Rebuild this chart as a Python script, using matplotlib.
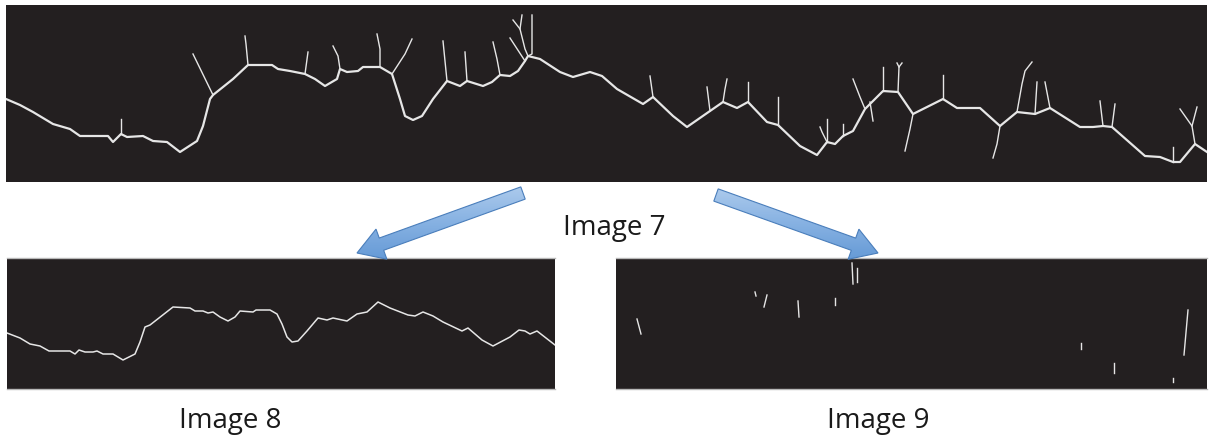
import numpy as np
import matplotlib
matplotlib.use("Agg")
import matplotlib.pyplot as plt
from matplotlib.patches import FancyArrow
from matplotlib.colors import LinearSegmentedColormap

W, H = 1211, 439
BG = '#231f20'
LINE = '#e6e6e6'

# Image 7: main skeleton path (pixel coords of the figure)
main_x = [6, 20, 33, 53, 70, 80, 108, 113, 121, 127, 143, 153, 167, 180, 197, 203, 210, 213, 233, 248,
          272, 278, 290, 305, 315, 325, 337, 340, 347, 358, 363, 380, 392, 400, 405, 413, 422, 433, 447,
          460, 467, 483, 492, 500, 510, 518, 525, 528, 540, 560, 573, 590, 602, 617, 643, 653, 673, 687,
          710, 723, 737, 748, 767, 778, 800, 817, 827, 835, 843, 853, 865, 883, 898, 913, 943, 957, 980,
          1000, 1017, 1035, 1050, 1080, 1093, 1103, 1112, 1145, 1160, 1173, 1180, 1195, 1207]
main_y = [100, 106, 113, 125, 130, 137, 137, 143, 135, 138, 137, 142, 143, 153, 142, 127, 100, 96, 80, 66,
          66, 70, 72, 75, 80, 87, 80, 70, 73, 72, 68, 68, 75, 100, 117, 121, 117, 100, 82,
          87, 82, 87, 83, 76, 77, 72, 62, 57, 60, 73, 78, 73, 77, 90, 105, 98, 117, 128,
          112, 103, 109, 103, 123, 126, 147, 156, 143, 145, 137, 132, 110, 92, 93, 115, 100, 109, 109,
          127, 113, 115, 109, 128, 128, 127, 128, 157, 158, 163, 163, 145, 153]

# Image 7: side branches (x list, y list)
branches = [
    ([121, 121], [135, 120]),
    ([213, 193], [96, 55]),
    ([248, 246, 245], [66, 45, 37]),
    ([305, 308], [75, 53]),
    ([340, 338, 333], [70, 57, 47]),
    ([380, 380, 377], [68, 50, 35]),
    ([392, 405, 412], [75, 55, 40]),
    ([447, 443], [82, 42]),
    ([467, 465], [82, 53]),
    ([500, 497, 493], [76, 60, 43]),
    ([525, 510], [62, 39]),
    ([528, 532, 532], [57, 55, 16]),
    ([528, 525, 520, 522], [57, 50, 30, 16]),
    ([520, 513], [30, 21]),
    ([653, 650], [98, 77]),
    ([710, 707], [112, 88]),
    ([723, 725, 727], [103, 90, 80]),
    ([748, 748], [103, 83]),
    ([778, 778], [126, 98]),
    ([827, 822, 820], [143, 133, 128]),
    ([827, 827], [143, 120]),
    ([843, 843], [137, 125]),
    ([865, 860, 853], [110, 98, 80]),
    ([870, 873], [103, 122]),
    ([883, 883], [92, 68]),
    ([898, 899, 897], [93, 68, 64]),
    ([899, 902], [68, 64]),
    ([913, 910, 905], [115, 130, 152]),
    ([943, 943], [100, 76]),
    ([1000, 997, 993], [127, 145, 159]),
    ([1017, 1022, 1025, 1032], [113, 85, 72, 63]),
    ([1035, 1037], [115, 83]),
    ([1050, 1045], [109, 83]),
    ([1103, 1100], [127, 102]),
    ([1112, 1115], [128, 105]),
    ([1173, 1173], [163, 148]),
    ([1195, 1192, 1180], [145, 127, 110]),
    ([1192, 1197], [127, 108]),
]

# Image 8: smoothed main path
img8_x = [7, 20, 30, 40, 49, 70, 75, 79, 85, 93, 97, 103, 113, 123, 135, 140, 145, 150, 173, 190, 195,
          203, 208, 213, 220, 228, 235, 240, 253, 256, 270, 277, 282, 287, 292, 298, 307, 318, 327, 333,
          347, 357, 367, 378, 390, 408, 415, 423, 433, 443, 462, 468, 482, 493, 510, 519, 525, 530, 537, 555]
img8_y = [334, 339, 345, 347, 352, 352, 355, 351, 353, 353, 352, 355, 355, 361, 355, 343, 328, 326, 308,
          309, 312, 312, 314, 313, 318, 322, 318, 312, 313, 311, 311, 315, 325, 338, 343, 342, 332, 319,
          321, 319, 322, 315, 313, 303, 309, 316, 317, 313, 317, 323, 332, 329, 341, 347, 338, 331, 332,
          335, 332, 346]

# Image 9: leftover branch fragments
img9_x0 = [637, 755, 767, 798, 835, 852, 857, 1081, 1114, 1188, 1173]
img9_y0 = [320, 293, 296, 302, 299, 264, 269, 344, 364, 311, 379]
img9_x1 = [641, 756, 764, 799, 835, 853, 857, 1081, 1114, 1184, 1173]
img9_y1 = [335, 297, 308, 318, 306, 285, 283, 350, 374, 356, 383]

# arrows (tail -> tip) and labels
arrow_tail = [(523, 194), (716, 196)]
arrow_tip = [(357, 254), (878, 254)]
labels = ['Image 7', 'Image 8', 'Image 9']
label_pos = [(614, 235), (230, 428), (878, 428)]

fig = plt.figure(figsize=(W / 100, H / 100), dpi=100)
fig.patch.set_facecolor('white')


def panel(x0, y0, x1, y1):
    ax = fig.add_axes([x0 / W, (H - y1) / H, (x1 - x0) / W, (y1 - y0) / H])
    ax.set_facecolor(BG)
    ax.set_xlim(x0, x1)
    ax.set_ylim(y1, y0)
    ax.set_xticks([])
    ax.set_yticks([])
    for s in ax.spines.values():
        s.set_visible(False)
    return ax


ax7 = panel(6, 6, 1207, 183)
ax7.plot(main_x, main_y, color=LINE, lw=1.6, solid_joinstyle='round')
for bx, by in branches:
    ax7.plot(bx, by, color=LINE, lw=1.0)

ax8 = panel(7, 259, 555, 390)
ax8.plot(img8_x, img8_y, color=LINE, lw=1.1)

ax9 = panel(616, 259, 1207, 390)
for xa, ya, xb, yb in zip(img9_x0, img9_y0, img9_x1, img9_y1):
    ax9.plot([xa, xb], [ya, yb], color=LINE, lw=1.0)

for ax in (ax8, ax9):
    for side in ('top', 'bottom'):
        ax.spines[side].set_visible(True)
        ax.spines[side].set_color('#b8b8b8')
        ax.spines[side].set_linewidth(1.0)

# overlay for arrows and text
ov = fig.add_axes([0, 0, 1, 1])
ov.patch.set_alpha(0)
ov.axis('off')

cmap = LinearSegmentedColormap.from_list('arr', ['#b9d3f0', '#86b1e2', '#5a92d2'])
grad = np.linspace(0, 1, 100).reshape(-1, 1)
for (tx, ty), (hx, hy) in zip(arrow_tail, arrow_tip):
    arr = FancyArrow(tx, ty, hx - tx, hy - ty, width=13, head_width=32, head_length=26,
                     length_includes_head=True, facecolor='none', edgecolor='#4a7ebb', lw=0.8)
    ov.add_patch(arr)
    im = ov.imshow(grad, cmap=cmap, extent=[min(tx, hx) - 20, max(tx, hx) + 20, max(ty, hy) + 20, min(ty, hy) - 20],
                   aspect='auto', zorder=1)
    im.set_clip_path(arr)
    arr.set_zorder(2)

for txt, (lx, ly) in zip(labels, label_pos):
    ov.text(lx, ly, txt, ha='center', va='baseline', fontsize=20, family='Open Sans', color='#1a1a1a')

ov.set_xlim(0, W)
ov.set_ylim(H, 0)

fig.savefig('out.png', dpi=100, facecolor='white')
